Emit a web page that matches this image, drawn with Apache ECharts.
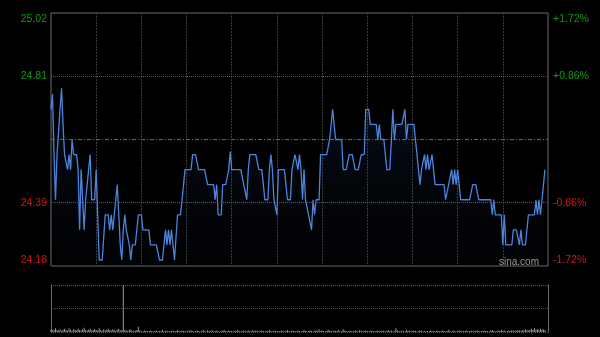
<!DOCTYPE html>
<html>
<head>
<meta charset="utf-8">
<script src="https://cdn.jsdelivr.net/npm/echarts@6/dist/echarts.min.js"></script>
<style>
html,body{margin:0;padding:0;background:#000;}
#c{width:600px;height:337px;}
</style>
</head>
<body>
<div id="c"></div>
<script>
// ---- data ----
const prevClose = 24.60;
const priceMin = 24.18;
const priceMax = 25.02;
const gridPrices = [24.39, 24.81];
const priceLabels = ['24.18', '24.39', '', '24.81', '25.02'];
const pctLabels = ['-1.72%', '-0.86%', '', '+0.86%', '+1.72%'];

const prices = [
24.70,24.75,24.55,24.40,24.55,24.55,24.70,24.77,24.65,24.55,
24.55,24.50,24.55,24.50,24.60,24.55,24.55,24.55,24.50,24.30,
24.50,24.40,24.30,24.40,24.45,24.50,24.55,24.40,24.40,24.40,
24.50,24.35,24.20,24.20,24.20,24.20,24.35,24.35,24.35,24.30,
24.35,24.30,24.35,24.40,24.45,24.35,24.25,24.20,24.30,24.35,
24.30,24.30,24.25,24.20,24.25,24.25,24.25,24.25,24.35,24.35,
24.35,24.30,24.30,24.30,24.30,24.30,24.25,24.25,24.25,24.25,
24.25,24.25,24.20,24.20,24.20,24.20,24.30,24.25,24.30,24.25,
24.30,24.25,24.20,24.20,24.35,24.35,24.35,24.35,24.45,24.50,
24.50,24.50,24.50,24.50,24.55,24.55,24.55,24.55,24.50,24.50,
24.50,24.50,24.50,24.50,24.45,24.45,24.45,24.45,24.45,24.40,
24.45,24.35,24.35,24.35,24.45,24.45,24.45,24.45,24.50,24.56,
24.50,24.50,24.50,24.50,24.50,24.50,24.50,24.50,24.45,24.45,
24.40,24.50,24.55,24.55,24.55,24.55,24.55,24.55,24.50,24.50,
24.50,24.45,24.40,24.40,24.40,24.50,24.55,24.50,24.40,24.40,
24.35,24.50,24.50,24.50,24.50,24.50,24.45,24.40,24.40,24.40,
24.50,24.50,24.55,24.55,24.50,24.55,24.50,24.40,24.50,24.40,
24.40,24.35,24.35,24.30,24.40,24.35,24.40,24.40,24.40,24.55,
24.55,24.55,24.55,24.55,24.55,24.60,24.65,24.70,24.65,24.60,
24.60,24.60,24.60,24.60,24.50,24.50,24.50,24.50,24.55,24.55,
24.55,24.55,24.50,24.50,24.50,24.50,24.55,24.55,24.55,24.70,
24.70,24.70,24.65,24.65,24.65,24.65,24.65,24.60,24.65,24.60,
24.60,24.60,24.55,24.50,24.50,24.50,24.60,24.70,24.60,24.65,
24.65,24.65,24.65,24.65,24.65,24.70,24.60,24.65,24.65,24.65,
24.65,24.65,24.60,24.55,24.55,24.45,24.50,24.50,24.55,24.50,
24.55,24.50,24.50,24.55,24.50,24.45,24.45,24.45,24.45,24.45,
24.45,24.45,24.40,24.40,24.45,24.45,24.50,24.45,24.50,24.45,
24.50,24.45,24.40,24.40,24.40,24.40,24.40,24.40,24.40,24.40,
24.45,24.45,24.45,24.45,24.40,24.40,24.40,24.40,24.40,24.40,
24.40,24.40,24.40,24.35,24.40,24.35,24.35,24.35,24.35,24.35,
24.25,24.35,24.25,24.25,24.25,24.25,24.25,24.30,24.30,24.30,
24.30,24.25,24.30,24.25,24.25,24.25,24.25,24.35,24.35,24.35,
24.35,24.35,24.40,24.35,24.40,24.35,24.40,24.45,24.50
];

const volumes = [
6,3,5,8,4,3,6,2,5,7,
4,3,8,5,2,6,4,3,7,5,
3,6,9,4,3,5,7,3,4,6,
5,3,8,4,2,6,3,5,7,4,
3,6,4,2,5,7,3,4,100,5,
3,2,4,6,2,3,2,4,11,3,
2,1,3,2,2,1,3,2,1,2,
3,1,2,2,4,1,2,3,1,2,
2,3,1,2,4,2,1,3,2,2,
1,3,2,4,2,1,2,3,2,1,
2,5,2,1,3,2,2,4,1,2,
3,2,1,2,3,4,2,1,3,2,
2,1,3,2,4,2,1,2,3,1,
2,3,2,1,4,2,3,2,1,2,
3,2,1,2,2,4,2,1,3,2,
2,1,2,3,2,1,2,4,2,1,
3,2,2,1,3,2,1,2,4,2,
1,2,3,2,1,2,3,2,6,2,
3,2,1,2,4,3,2,1,3,2,
2,4,1,2,6,3,2,1,2,3,
1,2,3,2,1,4,2,1,2,3,
2,1,3,2,2,1,2,3,1,2,
2,3,1,2,4,2,3,1,2,8,
3,2,1,3,2,1,4,2,3,1,
2,3,2,1,2,3,2,1,2,1,
2,1,3,2,2,1,2,3,1,2,
3,2,1,2,5,2,1,3,2,1,
2,3,2,1,2,2,3,1,2,3,
1,2,2,3,2,1,2,2,3,2,
2,1,3,4,2,1,2,3,2,5,
2,3,1,2,3,2,4,2,3,2,
5,3,2,4,3,6,4,3,5,7,
4,8,5,6,4,7,5,6,4
];

// minute categories of the HK session (09:30-12:00, 13:01-16:00)
const times = [];
function pad(n){return (n<10?'0':'')+n;}
for (let m = 9*60+30; m <= 12*60; m++) times.push(pad(Math.floor(m/60))+':'+pad(m%60));
for (let m = 13*60+1; m <= 16*60; m++) times.push(pad(Math.floor(m/60))+':'+pad(m%60));

// ---- chart ----
const chart = echarts.init(document.getElementById('c'), null, {renderer:'canvas'});
const FONT = 'Liberation Sans, Arial, sans-serif';
const GREEN = '#129a12';
const RED = '#cc1a1a';

function labelRich(arr){
  return function(v){
    const i = Math.round(v);
    const t = arr[i];
    if (!t) return '';
    if (i === 4) return '{gt|' + t + '}';
    if (i === 3) return '{g|' + t + '}';
    if (i === 1) return '{r|' + t + '}';
    if (i === 0) return '{rb|' + t + '}';
    return '';
  };
}
const rich = {
  gt:{color:GREEN, fontSize:10.5, fontFamily:FONT, padding:[12,0,0,0]},
  g:{color:GREEN, fontSize:10.5, fontFamily:FONT},
  r:{color:RED, fontSize:10.5, fontFamily:FONT},
  rb:{color:RED, fontSize:10.5, fontFamily:FONT, padding:[0,0,12,0]}
};

const option = {
  backgroundColor:'#000',
  animation:false,
  grid:[
    {left:51, right:52, top:13, height:253, show:true, borderColor:'#6a6a6a', borderWidth:1, backgroundColor:'transparent'},
    {left:51, right:52, top:285, height:47}
  ],
  xAxis:[
    {type:'category', gridIndex:0, data:times, boundaryGap:false,
     axisLine:{show:false}, axisTick:{show:false}, axisLabel:{show:false},
     splitLine:{show:true, interval:function(i){return i%30===0 && i>0 && i<times.length-1;},
       lineStyle:{color:'#3a3a3a', type:[2,1], width:1}}},
    {type:'category', gridIndex:1, data:times, boundaryGap:false,
     axisLine:{show:false}, axisTick:{show:false}, axisLabel:{show:false}, splitLine:{show:false}}
  ],
  yAxis:[
    {type:'value', gridIndex:0, min:priceMin, max:priceMax, show:false},
    {type:'value', gridIndex:0, min:0, max:4, interval:1, position:'left',
     axisLine:{show:false}, axisTick:{show:false}, splitLine:{show:false},
     axisLabel:{margin:4, formatter:labelRich(priceLabels), rich:rich}},
    {type:'value', gridIndex:0, min:0, max:4, interval:1, position:'right',
     axisLine:{show:false}, axisTick:{show:false}, splitLine:{show:false},
     axisLabel:{margin:5, formatter:labelRich(pctLabels), rich:rich}},
    {type:'value', gridIndex:1, min:0, max:100, interval:50, position:'left',
     axisLine:{show:true, lineStyle:{color:'#6a6a6a'}}, axisTick:{show:false}, axisLabel:{show:false},
     splitLine:{show:true, lineStyle:{color:'#555', type:[1,1]}}},
    {type:'value', gridIndex:1, min:0, max:100, interval:50, position:'right',
     axisLine:{show:true, lineStyle:{color:'#6a6a6a'}}, axisTick:{show:false}, axisLabel:{show:false},
     splitLine:{show:false}}
  ],
  graphic:[
    {type:'text', left:499, top:257, z:10, silent:true,
     style:{text:'sina.com', fill:'#9a9a9a', font:'10px ' + FONT}}
  ],
  series:[
    {type:'line', xAxisIndex:0, yAxisIndex:0, data:prices, showSymbol:false,
     lineStyle:{color:'#4a84dc', width:1.3},
     areaStyle:{origin:'start', color:new echarts.graphic.LinearGradient(0,0,0,1,[
       {offset:0, color:'rgba(50,90,170,0.22)'},
       {offset:1, color:'rgba(20,40,90,0.05)'}])},
     markLine:{silent:true, symbol:'none', label:{show:false},
       data:[
         {yAxis:gridPrices[0], lineStyle:{color:'#5a5a5a', type:[1,1], width:1}},
         {yAxis:gridPrices[1], lineStyle:{color:'#5a5a5a', type:[1,1], width:1}},
         {yAxis:prevClose, lineStyle:{color:'#666', type:[4,2,1,2], width:1}}
       ]},
     z:3},
    {type:'bar', xAxisIndex:1, yAxisIndex:3, data:volumes, barWidth:1,
     itemStyle:{color:'#9a9a9a'}}
  ]
};
chart.setOption(option);
</script>
</body>
</html>
